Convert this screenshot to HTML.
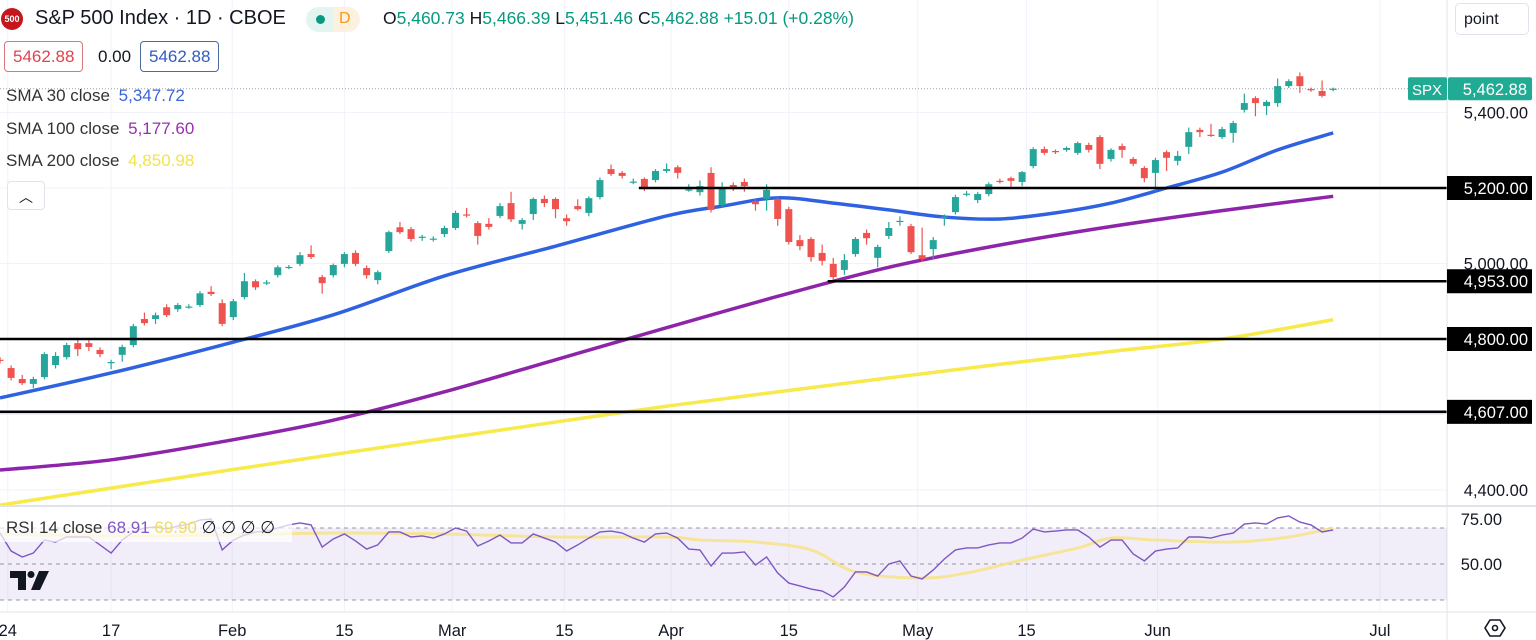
<!DOCTYPE html>
<html><head><meta charset="utf-8"><style>
html,body{margin:0;padding:0;background:#fff;overflow:hidden}
body{width:1536px;height:640px;position:relative;font-family:"Liberation Sans",sans-serif;color:#131722}
svg{position:absolute;left:0;top:0}
.box{position:absolute;background:#fff;border-radius:4px;font-size:17px;line-height:29px;padding:0 8px}
.leg{position:absolute;left:6px;font-size:17px;color:#333}
</style></head><body>
<svg id="chart" width="1536" height="640"></svg>

<div style="position:absolute;left:1px;top:8px;width:22px;height:22px;border-radius:50%;background:#c4161c;color:#fff;font-size:9px;font-weight:bold;line-height:22px;text-align:center">500</div>
<div style="position:absolute;left:35px;top:7px;font-size:20px;color:#131722">S&amp;P 500 Index · 1D · CBOE</div>
<div style="position:absolute;left:306px;top:7px;width:54px;height:25px;border-radius:13px;background:linear-gradient(90deg,#e3f4f1 50%,#fdf0de 50%)"><span style="position:absolute;left:10px;top:8px;width:9px;height:9px;border-radius:50%;background:#089981"></span><span style="position:absolute;left:33px;top:3px;color:#f39a1d;font-size:16px">D</span></div>
<div style="position:absolute;left:383px;top:8px;font-size:17.5px;color:#089981"><span style="color:#131722">O</span>5,460.73 <span style="color:#131722">H</span>5,466.39 <span style="color:#131722">L</span>5,451.46 <span style="color:#131722">C</span>5,462.88 +15.01 (+0.28%)</div>
<div class="box" style="left:4px;top:41px;border:1px solid #d9777d;color:#e0434e">5462.88</div>
<div style="position:absolute;left:98px;top:47px;font-size:17px">0.00</div>
<div class="box" style="left:140px;top:41px;border:1px solid #4d6c9c;color:#2f5cc6">5462.88</div>
<div class="leg" style="top:86px">SMA 30 close <span style="color:#3a64d8;margin-left:4px">5,347.72</span></div>
<div class="leg" style="top:119px">SMA 100 close <span style="color:#9a2fae;margin-left:4px">5,177.60</span></div>
<div class="leg" style="top:151px">SMA 200 close <span style="color:#f2e44a;margin-left:4px">4,850.98</span></div>
<div style="position:absolute;left:7px;top:181px;width:36px;height:27px;border:1px solid #e0e3eb;border-radius:4px;background:#fff;text-align:center;font-size:14px;line-height:30px">︿</div>
<div style="position:absolute;left:1455px;top:3px;height:32px;border:1px solid #e0e3eb;border-radius:5px;background:#fff;font-size:16px;line-height:32px;padding-left:8px;box-sizing:border-box;width:74px">point</div>

<script>
const NS='http://www.w3.org/2000/svg';
const svg=document.getElementById('chart');
// ---- data ----
const opens=[4745,4723,4694,4681,4699,4731,4752,4789,4789,4771,4737,4758,4784,4853,4853,4884,4879,4884,4890,4925,4895,4858,4911,4953,4948,4969,4990,4999,5025,4964,4969,4999,5028,4988,4956,5033,5096,5091,5070,5065,5078,5094,5130,5107,5105,5126,5160,5105,5131,5171,5171,5120,5152,5134,5176,5250,5240,5216,5224,5221,5245,5255,5195,5189,5240,5155,5208,5216,5165,5171,5171,5144,5062,5065,5028,4999,4983,5025,5081,5015,5073,5112,5099,5022,5038,5123,5136,5184,5168,5184,5219,5226,5216,5258,5303,5298,5301,5293,5314,5335,5277,5311,5277,5253,5240,5295,5272,5309,5354,5341,5335,5346,5407,5438,5417,5425,5470,5496,5462,5457,5460];
const highs=[4752,4730,4705,4700,4765,4765,4790,4800,4798,4778,4745,4785,4840,4870,4870,4892,4895,4892,4927,4940,4905,4906,4975,4958,4956,4995,4996,5030,5048,4970,5000,5030,5035,4995,4982,5087,5110,5097,5076,5072,5100,5140,5147,5112,5120,5160,5190,5120,5175,5180,5175,5130,5170,5178,5228,5262,5245,5225,5228,5250,5265,5260,5210,5220,5255,5215,5215,5225,5170,5210,5175,5150,5075,5070,5050,5015,5025,5070,5090,5050,5110,5125,5105,5095,5070,5130,5182,5192,5190,5215,5225,5230,5245,5308,5310,5302,5310,5323,5320,5340,5305,5318,5282,5258,5280,5300,5298,5360,5360,5370,5362,5378,5450,5443,5433,5490,5488,5506,5466,5485,5466];
const lows=[4735,4690,4678,4670,4693,4722,4746,4755,4768,4752,4720,4740,4778,4836,4840,4858,4872,4880,4885,4914,4834,4850,4905,4930,4943,4963,4985,4993,5012,4920,4963,4990,4993,4960,4945,5028,5078,5058,5060,5058,5070,5089,5122,5050,5090,5120,5110,5090,5115,5150,5120,5100,5140,5125,5170,5232,5225,5210,5192,5215,5240,5225,5190,5180,5135,5150,5192,5190,5140,5140,5100,5050,5035,5005,4995,4955,4970,5018,5050,4990,5065,5100,5025,5005,5010,5100,5130,5178,5160,5178,5212,5200,5205,5252,5288,5290,5296,5288,5294,5250,5270,5280,5258,5215,5192,5245,5260,5290,5335,5335,5330,5320,5400,5390,5393,5415,5465,5452,5455,5440,5456];
const closes=[4742,4697,4683,4694,4760,4755,4784,4773,4779,4760,4739,4779,4834,4842,4863,4863,4890,4886,4921,4919,4840,4900,4953,4937,4950,4990,4991,5022,5017,4948,4996,5025,4999,4969,4977,5083,5083,5065,5071,5066,5094,5134,5128,5073,5097,5152,5117,5115,5171,5160,5144,5112,5144,5173,5221,5237,5232,5217,5197,5245,5250,5240,5196,5205,5142,5200,5197,5205,5157,5195,5118,5057,5046,5017,5007,4964,5009,5065,5067,5044,5094,5113,5030,5012,5062,5124,5176,5185,5184,5210,5218,5219,5242,5303,5293,5297,5306,5319,5301,5264,5301,5301,5264,5226,5274,5280,5285,5348,5348,5340,5356,5372,5425,5425,5428,5470,5483,5470,5461,5444,5463];
const sma30Idx=[0,10,20,30,40,50,60,65,70,75,80,85,90,95,100,105,110,115,120];
const sma30=[4644,4710,4784,4864,4967,5046,5126,5152,5174,5160,5142,5123,5118,5134,5160,5200,5242,5301,5346];
const smaLongIdx=[0,10,20,30,40,50,60,70,80,90,100,110,120];
const sma100=[4453,4480,4528,4585,4660,4745,4830,4913,4990,5049,5098,5140,5178];
const sma200=[4360,4405,4450,4494,4537,4580,4622,4660,4697,4733,4767,4800,4851];
const rsi=[67.2,57.2,53.9,56.1,63.3,62.2,65,65,65,60.6,56.1,63.3,67.8,70,70.6,69.4,71.1,72.2,74.4,75,57.8,63.3,66.1,67.8,68.3,70,71.7,72.8,71.7,59.4,63.9,66.7,62.8,58.3,60.6,67.8,67.8,65,65.6,64.4,66.7,70,68.3,60,62.8,66.1,61.7,61.7,66.7,64.4,62.2,57.2,60.6,64.4,67.8,68.3,67.2,64.4,62.2,66.7,67.2,64.4,58.3,57.8,48.9,56.1,56.1,56.7,49.4,53.9,45,39.4,37.8,36.1,35,31.7,37.2,45.6,45.6,43.3,50,51.7,43.3,41.7,46.7,52.8,57.8,58.9,58.9,60.6,61.7,61.7,64.4,69.4,67.8,68.3,68.9,68.9,65,59.4,63.3,63.3,55.6,51.7,57.2,58.3,58.9,65,65,64.4,66.1,67.2,72.2,72.8,72.2,75.6,76.7,73.3,71.7,67.8,68.9];
const rsiMaIdx=[0,10,20,30,40,50,60,63,68,73,77,83,87,92,97,100,104,111,116,120];
const rsiMa=[66.7,65.6,66.1,67.2,66.7,65,65,63.3,62.2,57.8,45.6,42.2,45,52.2,58.9,64.4,63.3,62.2,65,70];
const priceTicks=[5400,5000,4400];
const levels=[5200,4953,4800,4607];
const levelStart=[57.5,74.5,0,0];
const dateLabels=['24','17','Feb','15','Mar','15','Apr','15','May','15','Jun','Jul'];
const dateIdx=[0.7,10,20.9,31,40.7,50.8,60.4,71,82.6,92.4,104.2,124.2];
// ---- axes ----
const PW=1447;
const xOf=i=>i*11.11;
const yOf=p=>112.5+(5400-p)*0.3775;
const yR=v=>528-(v-70)*1.8;
function el(tag,attrs,parent){const e=document.createElementNS(NS,tag);for(const k in attrs)e.setAttribute(k,attrs[k]);(parent||svg).appendChild(e);return e;}
function smooth(pts){let d='M'+pts[0][0]+','+pts[0][1];for(let i=0;i<pts.length-1;i++){const p0=pts[i-1]||pts[i],p1=pts[i],p2=pts[i+1],p3=pts[i+2]||p2;const c1=[p1[0]+(p2[0]-p0[0])/6,p1[1]+(p2[1]-p0[1])/6],c2=[p2[0]-(p3[0]-p1[0])/6,p2[1]-(p3[1]-p1[1])/6];d+=` C${c1[0]},${c1[1]} ${c2[0]},${c2[1]} ${p2[0]},${p2[1]}`;}return d;}
const defs=el('defs',{});
const cp=el('clipPath',{id:'pc'},defs);el('rect',{x:0,y:0,width:PW,height:506},cp);
// grid
const grid=el('g',{});


dateIdx.forEach(i=>el('line',{x1:xOf(i),x2:xOf(i),y1:0,y2:612,stroke:'#f0f3fa'},grid));
[5400,5200,5000,4800,4600,4400].forEach(p=>el('line',{x1:0,x2:PW,y1:yOf(p),y2:yOf(p),stroke:'#f0f3fa'},grid));
// price pane
const pane=el('g',{'clip-path':'url(#pc)'});
function smaLine(idx,vals,color,name){const p=el('path',{d:smooth(idx.map((i,k)=>[xOf(i),yOf(vals[k])])),fill:'none',stroke:color,'stroke-width':3.5},pane);

}
smaLine(smaLongIdx,sma200,'#f7ea4a','sma200-line');
smaLine(smaLongIdx,sma100,'#8e24aa','sma100-line');
smaLine(sma30Idx,sma30,'#2e62e0','sma30-line');
el('line',{x1:0,x2:PW,y1:yOf(5462.88),y2:yOf(5462.88),stroke:'#9aa0ab','stroke-dasharray':'1 2'},pane);
for(let i=0;i<closes.length;i++){
  const up=closes[i]>=opens[i];const c=up?'#26a69a':'#ef5350';const x=xOf(i);
  const g=el('g',{},pane);
  
  
  el('line',{x1:x,x2:x,y1:yOf(highs[i]),y2:yOf(lows[i]),stroke:c,'stroke-width':1.2},g);
  const t=yOf(Math.max(opens[i],closes[i])),b=yOf(Math.min(opens[i],closes[i]));
  el('rect',{x:x-3.5,y:t,width:7,height:Math.max(1.2,b-t),fill:c},g);
}
levels.forEach((p,k)=>{const l=el('line',{x1:xOf(levelStart[k]),x2:PW,y1:yOf(p),y2:yOf(p),stroke:'#000','stroke-width':2.6},pane);

});
// separators
el('line',{x1:0,x2:1536,y1:506,y2:506,stroke:'#e0e3eb','stroke-width':2});
el('line',{x1:0,x2:1536,y1:612,y2:612,stroke:'#e0e3eb'});
el('line',{x1:PW,x2:PW,y1:0,y2:640,stroke:'#e0e3eb'});
// right axis
priceTicks.forEach(p=>{const t=el('text',{x:1528,y:yOf(p)+6,'text-anchor':'end','font-size':16.5,fill:'#131722'});t.textContent=p.toLocaleString('en-US',{minimumFractionDigits:2});

});
levels.forEach(p=>{const y=yOf(p);const g=el('g',{});


el('rect',{x:PW,y:y-12,width:85,height:24,fill:'#000'},g);const t=el('text',{x:1528,y:y+6,'text-anchor':'end','font-size':16.5,fill:'#fff'},g);t.textContent=p.toLocaleString('en-US',{minimumFractionDigits:2});});
{const y=yOf(5462.88);const g=el('g',{});


el('rect',{x:1408,y:y-11.5,width:39,height:23,fill:'#22ab94',rx:2},g);el('rect',{x:1448,y:y-11.5,width:84,height:23,fill:'#22ab94',rx:2},g);
const a=el('text',{x:1427,y:y+6,'text-anchor':'middle','font-size':15,fill:'#fff'},g);a.textContent='SPX';
const b=el('text',{x:1527,y:y+6,'text-anchor':'end','font-size':16.5,fill:'#fff'},g);b.textContent='5,462.88';}
// RSI pane
const rp=el('g',{});


el('rect',{x:0,y:yR(70),width:PW,height:yR(30)-yR(70),fill:'#7e57c2','fill-opacity':0.1},rp);
[70,50,30].forEach(v=>el('line',{x1:0,x2:PW,y1:yR(v),y2:yR(v),stroke:'#9598a1','stroke-dasharray':'4 4'},rp));
const ma=el('path',{d:smooth(rsiMaIdx.map((i,k)=>[xOf(i),yR(rsiMa[k])])),fill:'none',stroke:'#f6e27f','stroke-width':3,'stroke-opacity':0.8},rp);


const rl=el('polyline',{points:rsi.map((v,i)=>xOf(i)+','+yR(v)).join(' '),fill:'none',stroke:'#7e57c2','stroke-width':1.4},rp);


[[75,'75.00'],[50,'50.00']].forEach(([v,s])=>{const t=el('text',{x:1502,y:yR(v)+6,'text-anchor':'end','font-size':16.5,fill:'#131722'});t.textContent=s;

});
el('rect',{x:0,y:512,width:292,height:30,fill:'#fff','fill-opacity':0.7});
{const t=el('text',{x:6,y:533,'font-size':17,fill:'#333'});t.innerHTML='RSI 14 close <tspan fill="#7e57c2">68.91</tspan> <tspan fill="#f0dd60">69.90</tspan> <tspan fill="#131722">∅ ∅ ∅ ∅</tspan>';

}
{const g=el('g',{fill:'#131722'});


el('path',{d:'M10 571 H26 V590 H18 V578 H10 Z'},g);el('circle',{cx:31,cy:574.5,r:3.5},g);el('path',{d:'M39 571 H49 L40 590 H31 Z'},g);}
// time axis
dateLabels.forEach((s,k)=>{const t=el('text',{x:xOf(dateIdx[k]),y:636,'text-anchor':'middle','font-size':16.5,fill:'#131722'});t.textContent=s;

});
{const g=el('g',{fill:'none',stroke:'#131722','stroke-width':1.6});


el('path',{d:'M1490 620 H1500 L1505 628 L1500 636 H1490 L1485 628 Z'},g);el('circle',{cx:1495,cy:628,r:2.5},g);}
</script>
</body></html>
